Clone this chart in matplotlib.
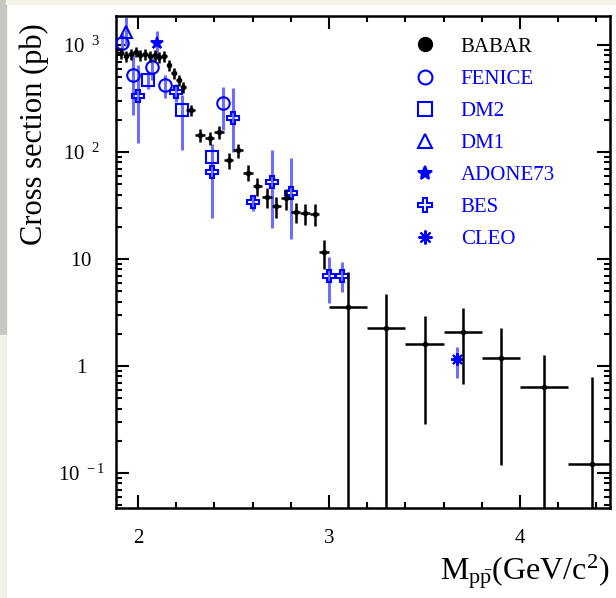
import matplotlib
matplotlib.use('Agg')
from matplotlib import pyplot as plt
from matplotlib.patches import Rectangle
from matplotlib.ticker import MultipleLocator, LogLocator, NullFormatter

plt.rcParams['font.family'] = ['Liberation Serif', 'DejaVu Serif']
plt.rcParams['mathtext.fontset'] = 'custom'
plt.rcParams['mathtext.rm'] = 'Liberation Serif'
plt.rcParams['mathtext.it'] = 'Liberation Serif:italic'

# BABAR: bin centres, half widths, cross sections (pb), errors
babar_x = [1.8875, 1.9125, 1.9375, 1.9625, 1.9875, 2.0125, 2.0375, 2.0625, 2.0875,
           2.1125, 2.1375, 2.1625, 2.1875, 2.2125, 2.2375,
           2.275, 2.325, 2.375, 2.425, 2.475, 2.525, 2.575, 2.625, 2.675, 2.725,
           2.775, 2.825, 2.875, 2.925, 2.975,
           3.1, 3.3, 3.5, 3.7, 3.9, 4.125, 4.375]
babar_xerr = [0.0125] * 15 + [0.025] * 15 + [0.1, 0.1, 0.1, 0.1, 0.1, 0.125, 0.125]
babar_y = [841, 841, 789, 824, 860, 806, 824, 789, 806, 772, 790, 650, 550, 470, 405,
           247, 144, 135, 154, 84, 104, 64, 48, 38, 31, 37, 27.5, 26.9, 26.4, 11.6,
           3.56, 2.26, 1.61, 2.08, 1.19, 0.64, 0.121]
babar_yerr = [95] * 11 + [75, 65, 55, 50,
              30, 20, 20, 22, 14, 16, 11, 9, 8, 7, 8, 6, 6, 6, 3.5,
              4.0, 2.4, 1.32, 1.4, 1.07, 0.63, 0.67]

# older experiments: x, y, lower error, upper error
fenice_x = [1.916, 1.974, 2.073, 2.14, 2.445]
fenice_y = [1040, 524, 622, 423, 287]
fenice_lo = [200, 300, 150, 100, 126]
fenice_hi = [250, 344, 150, 100, 117]

dm2_x = [2.05, 2.23, 2.39]
dm2_y = [470, 247, 90]
dm2_lo = [80, 143, 25]
dm2_hi = [80, 94, 25]

dm1_x = [1.935]
dm1_y = [1320]
dm1_lo = [350]
dm1_hi = [500]

adone_x = [2.1]
adone_y = [1045]
adone_lo = [300]
adone_hi = [300]

bes_x = [2.0, 2.2, 2.39, 2.5, 2.6, 2.7, 2.8, 3.0, 3.07]
bes_y = [334, 364, 65, 208, 34, 52.5, 41.4, 6.9, 6.9]
bes_lo = [213, 70, 41, 108, 6, 33, 26, 3.0, 2.0]
bes_hi = [316, 70, 55, 188, 6, 51, 47, 3.5, 2.5]

cleo_x = [3.671]
cleo_y = [1.16]
cleo_lo = [0.39]
cleo_hi = [0.36]

ytick_vals = [0.1, 1, 10, 100, 1000]
ytick_labels = [r'$10^{\ \,-1}$', r'$1$', r'$10$', r'$10^{\ \ 2}$', r'$10^{\ \ 3}$']

BLUE = '#0000ff'
BAR_BLUE = '#6f6fff'

fig = plt.figure(figsize=(6.16, 5.98), dpi=100)
fig.patch.set_facecolor('white')
# screenshot border strips
fig.patches.append(Rectangle((0, 1 - 335 / 598), 6 / 616, 335 / 598,
                             transform=fig.transFigure, color='#c6c7c1', zorder=0))
fig.patches.append(Rectangle((0, 0), 6 / 616, 1 - 335 / 598,
                             transform=fig.transFigure, color='#f1f2e6', zorder=0))
fig.patches.append(Rectangle((6 / 616, 1 - 4 / 598), 1, 4 / 598,
                             transform=fig.transFigure, color='#f4f4ea', zorder=0))

ax = fig.add_axes([116 / 616, 1 - 508 / 598, 494 / 616, 492 / 598])

blue_sets = [
    (fenice_x, fenice_y, fenice_lo, fenice_hi, 'o', 'FENICE', 'none'),
    (dm2_x, dm2_y, dm2_lo, dm2_hi, 's', 'DM2', 'none'),
    (dm1_x, dm1_y, dm1_lo, dm1_hi, '^', 'DM1', 'none'),
    (adone_x, adone_y, adone_lo, adone_hi, '*', 'ADONE73', BLUE),
    (bes_x, bes_y, bes_lo, bes_hi, 'P', 'BES', 'none'),
    (cleo_x, cleo_y, cleo_lo, cleo_hi, (8, 2, 0), 'CLEO', BLUE),
]

ax.errorbar(babar_x, babar_y, xerr=babar_xerr, yerr=babar_yerr, fmt='none',
            ecolor='black', elinewidth=1.8, capsize=0, zorder=4)
h_babar, = ax.plot(babar_x, babar_y, 'o', color='black', ms=3, label='BABAR', zorder=5)

handles = [h_babar]
for xs, ys, lo, hi, mk, name, fc in blue_sets:
    ax.errorbar(xs, ys, yerr=[lo, hi], fmt='none', ecolor=BAR_BLUE,
                elinewidth=2.2, capsize=0, zorder=2)
    h, = ax.plot(xs, ys, linestyle='none', marker=mk, ms=9, mfc=fc, mec=BLUE,
                 mew=1.5, label=name, zorder=3)
    handles.append(h)

ax.set_yscale('log')
ax.set_xlim(1.885, 4.471)
ax.set_ylim(0.0471, 1866)

ax.xaxis.set_major_locator(MultipleLocator(1))
ax.xaxis.set_minor_locator(MultipleLocator(0.2))
ax.set_yticks(ytick_vals)
ax.set_yticklabels(ytick_labels)
ax.yaxis.set_minor_locator(LogLocator(base=10, subs=range(2, 10), numticks=20))
ax.yaxis.set_minor_formatter(NullFormatter())

ax.tick_params(which='both', direction='in', top=True, right=True, width=1.5)
ax.tick_params(which='major', length=9.5)
ax.tick_params(which='minor', length=4.5)
ax.tick_params(axis='x', labelsize=15, pad=15)
ax.tick_params(axis='y', labelsize=15, pad=25)
for lab in ax.get_yticklabels():
    lab.set_horizontalalignment('center')
for sp in ax.spines.values():
    sp.set_linewidth(1.8)

ax.set_ylabel('Cross section (pb)', fontsize=22)
ax.yaxis.set_label_coords(-0.135, 0.76)
ax.set_xlabel(r'$\mathrm{M}_{\mathrm{p\bar{p}}}\mathrm{(GeV/c^{2})}$', fontsize=23,
              loc='right', labelpad=3)

leg = ax.legend(handles=handles, loc='upper left', bbox_to_anchor=(0.605, 0.957),
                frameon=False, fontsize=15, handlelength=1.0, handletextpad=1.2,
                labelspacing=0.6, borderpad=0, borderaxespad=0)
for h in leg.legend_handles:
    h.set_markersize(10)
for t in leg.get_texts()[1:]:
    t.set_color(BLUE)

fig.savefig('out.png', dpi=100)
